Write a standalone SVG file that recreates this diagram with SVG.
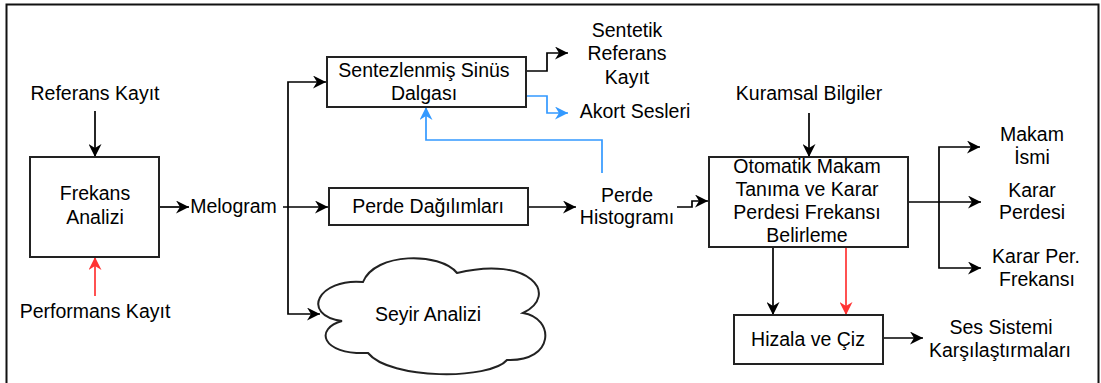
<svg xmlns="http://www.w3.org/2000/svg" width="1101" height="383" viewBox="0 0 1101 383">
<style>
text{font-family:"Liberation Sans",Arial,sans-serif;font-size:19.5px;fill:#000;text-anchor:middle}
.box{fill:#fff;stroke:#222;stroke-width:2}
.c{fill:none;stroke:#000;stroke-width:1.7}
.blue{stroke:#3399ff}
.red{stroke:#ff3333}
</style>
<defs>
<marker id="ak" markerUnits="userSpaceOnUse" markerWidth="15" markerHeight="13" refX="13" refY="6.5" orient="auto"><path d="M0,0 L13,6.5 L0,13 L4,6.5 Z" fill="#000"/></marker>
<marker id="ab" markerUnits="userSpaceOnUse" markerWidth="15" markerHeight="13" refX="13" refY="6.5" orient="auto"><path d="M0,0 L13,6.5 L0,13 L4,6.5 Z" fill="#3399ff"/></marker>
<marker id="ar" markerUnits="userSpaceOnUse" markerWidth="15" markerHeight="13" refX="13" refY="6.5" orient="auto"><path d="M0,0 L13,6.5 L0,13 L4,6.5 Z" fill="#ff3333"/></marker>
</defs>
<rect x="0" y="0" width="1101" height="383" fill="#fff"/>
<rect x="6.5" y="4.5" width="1092" height="390" fill="none" stroke="#111" stroke-width="2"/>

<g id="connectors">
<path class="c" d="M95,111 V157" marker-end="url(#ak)"/>
<path class="c red" d="M95,296 V257" marker-end="url(#ar)"/>
<path class="c" d="M159,207 H189" marker-end="url(#ak)"/>
<path class="c" d="M283,207 H328" marker-end="url(#ak)"/>
<path class="c" d="M288,207 V82 H326" marker-end="url(#ak)"/>
<path class="c" d="M288,207 V314 H320" marker-end="url(#ak)"/>
<path class="c" d="M526,71 H547 V53 H568" marker-end="url(#ak)"/>
<path class="c blue" d="M526,96 H547 V113 H568" marker-end="url(#ab)"/>
<path class="c blue" d="M602,173 V140 H426 V107" marker-end="url(#ab)"/>
<path class="c" d="M528,207 H576" marker-end="url(#ak)"/>
<path class="c" d="M677,207 H692 V201 H708" marker-end="url(#ak)"/>
<path class="c" d="M809,113 V157" marker-end="url(#ak)"/>
<path class="c" d="M908,202 H981" marker-end="url(#ak)"/>
<path class="c" d="M939,202 V147 H980" marker-end="url(#ak)"/>
<path class="c" d="M939,202 V268 H981" marker-end="url(#ak)"/>
<path class="c" d="M773,247 V315" marker-end="url(#ak)"/>
<path class="c red" d="M846,247 V315" marker-end="url(#ar)"/>
<path class="c" d="M883,338 H923" marker-end="url(#ak)"/>
</g>

<g id="referans-kayit"><text x="95" y="100">Referans Kayıt</text></g>
<g id="performans-kayit"><text x="95" y="318">Performans Kayıt</text></g>
<g id="frekans-analizi">
<rect class="box" x="30" y="157" width="129" height="100"/>
<text x="95" y="200">Frekans</text><text x="95" y="224">Analizi</text>
</g>
<g id="melogram"><text x="233.5" y="213">Melogram</text></g>
<g id="sentezlenmis">
<rect class="box" x="327" y="57" width="199" height="50"/>
<text x="424" y="77">Sentezlenmiş Sinüs</text><text x="424" y="100">Dalgası</text>
</g>
<g id="sentetik-referans-kayit">
<text x="627" y="37">Sentetik</text><text x="627" y="60">Referans</text><text x="627" y="84">Kayıt</text>
</g>
<g id="akort-sesleri"><text x="635" y="118">Akort Sesleri</text></g>
<g id="perde-dagilimlari">
<rect class="box" x="329" y="188" width="199" height="37"/>
<text x="428" y="213">Perde Dağılımları</text>
</g>
<g id="perde-histogrami">
<text x="627" y="202">Perde</text><text x="627" y="224">Histogramı</text>
</g>
<g id="seyir-analizi">
<path class="box" stroke-width="1.5" d="M363,282 C318,278 300,315 342,321 C315,328 320,355 368,353 C390,380 490,380 507,360 C555,362 555,318 523,313 C560,295 530,255 457,273 C440,252 375,252 363,282 Z"/>
<text x="428" y="321">Seyir Analizi</text>
</g>
<g id="kuramsal-bilgiler"><text x="809" y="100">Kuramsal Bilgiler</text></g>
<g id="otomatik-makam">
<rect class="box" x="709" y="157" width="199" height="90"/>
<text x="807" y="173">Otomatik Makam</text><text x="807" y="196">Tanıma ve Karar</text><text x="807" y="219">Perdesi Frekansı</text><text x="807" y="242">Belirleme</text>
</g>
<g id="makam-ismi"><text x="1032" y="141">Makam</text><text x="1032" y="164">İsmi</text></g>
<g id="karar-perdesi"><text x="1032" y="197">Karar</text><text x="1032" y="219">Perdesi</text></g>
<g id="karar-per-frekansi"><text x="1036" y="263">Karar Per.</text><text x="1037" y="286">Frekansı</text></g>
<g id="hizala-ve-ciz">
<rect class="box" x="734" y="315" width="149" height="49"/>
<text x="808" y="346">Hizala ve Çiz</text>
</g>
<g id="ses-sistemi"><text x="1001" y="334">Ses Sistemi</text><text x="1000" y="357">Karşılaştırmaları</text></g>
</svg>
